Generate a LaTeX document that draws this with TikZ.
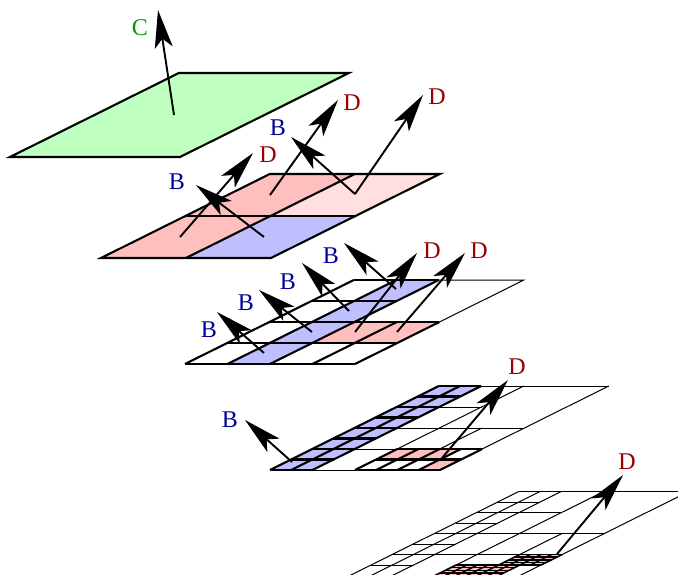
\documentclass[tikz,border=0pt]{standalone}
\usepackage{fontspec}
\setmainfont{Liberation Serif}
\usepackage{tikz}
\usetikzlibrary{arrows.meta}
\definecolor{colgreen}{RGB}{191,255,191}
\definecolor{colred}{RGB}{255,191,191}
\definecolor{colpale}{RGB}{255,223,223}
\definecolor{colblue}{RGB}{191,191,255}
\definecolor{txtb}{RGB}{0,0,153}
\definecolor{txtd}{RGB}{153,0,0}
\definecolor{txtc}{RGB}{0,153,0}
\newcommand{\patch}[4]{(#1,#2) -- (#3,#2) -- (#3,#4) -- (#1,#4) -- cycle}
\tikzset{
  sheet/.style={x={(21.25pt,0pt)}, y={(21.1pt,10.5pt)}},
  bold/.style={line width=2.1pt, line join=miter},
  fine/.style={line width=1pt},
  vec/.style={line width=1.9pt, -{Stealth[length=38pt,width=18pt,inset=9pt]}},
  lab/.style={font=\fontsize{24}{24}\selectfont, inner sep=0pt},
  labb/.style={lab, text=txtb},
  labd/.style={lab, text=txtd},
  labc/.style={lab, text=txtc}
}
\begin{document}
\begin{tikzpicture}[x=1pt, y=-1pt]
  \clip (0,0) rectangle (678,574);
  % coarsest plate
  \begin{scope}[shift={(10,157)}, sheet]
    \draw[bold, fill=colgreen] \patch{0}{0}{8}{8};
  \end{scope}
  \coordinate (cbase) at (174,115);
  \coordinate (ctip) at (158,10);
  \node[labc] (clab) at (140,28) {C};
  \draw[vec] (cbase) -- (ctip);
  % second plate
  \begin{scope}[shift={(101,258)}, sheet]
    \fill[colred] \patch{0}{0}{4}{4};
    \fill[colblue] \patch{4}{0}{8}{4};
    \fill[colred] \patch{0}{4}{4}{8};
    \fill[colpale] \patch{4}{4}{8}{8};
    \draw[bold] \patch{0}{0}{8}{8};
    \draw[bold] (4,0) -- (4,8);
    \draw[bold] (0,4) -- (8,4);
  \end{scope}
  \coordinate (da) at (180,237);
  \coordinate (dat) at (253,153);
  \coordinate (db) at (270,195);
  \coordinate (dbt) at (338,100);
  \coordinate (dc) at (355,194);
  \coordinate (dct) at (423,95);
  \coordinate (ba) at (264,237);
  \coordinate (bat) at (196,185);
  \coordinate (bbt) at (291,137);
  \node[labd] (dalab) at (268,155) {D};
  \node[labd] (dblab) at (352,103) {D};
  \node[labd] (dclab) at (437,97) {D};
  \node[labb] (balab) at (177,182) {B};
  \node[labb] (bblab) at (278,128) {B};
  \draw[vec] (da) -- (dat);
  \draw[vec] (db) -- (dbt);
  \draw[vec] (dc) -- (dct);
  \draw[vec] (ba) -- (bat);
  \draw[vec] (dc) -- (bbt);
  % third plate
  \begin{scope}[shift={(185,364)}, sheet]
    \fill[colblue] \patch{2}{0}{4}{8};
    \fill[colred] \patch{4}{2}{8}{4};
    \draw[fine] (4,8) -- (8,8) -- (8,4);
    \foreach \i in {0,2,4} \draw[bold] (\i,0) -- (\i,8);
    \foreach \i in {6,8} \draw[bold] (\i,0) -- (\i,4);
    \foreach \j in {0,2,4} \draw[bold] (0,\j) -- (8,\j);
    \foreach \j in {6,8} \draw[bold] (0,\j) -- (4,\j);
  \end{scope}
  \coordinate (bc) at (264,353);
  \coordinate (bct) at (217,312);
  \coordinate (bd) at (312,332);
  \coordinate (bdt) at (259,290);
  \coordinate (be) at (349,311);
  \coordinate (bet) at (302,263);
  \coordinate (bf) at (396,289);
  \coordinate (bft) at (344,243);
  \coordinate (dd) at (355,332);
  \coordinate (ddt) at (417,253);
  \coordinate (de) at (397,332);
  \coordinate (det) at (465,253);
  \node[labb] (bclab) at (209,330) {B};
  \node[labb] (bdlab) at (246,303) {B};
  \node[labb] (belab) at (288,282) {B};
  \node[labb] (bflab) at (331,256) {B};
  \node[labd] (ddlab) at (432,251) {D};
  \node[labd] (delab) at (479,251) {D};
  \draw[vec] (bc) -- (bct);
  \draw[vec] (bd) -- (bdt);
  \draw[vec] (be) -- (bet);
  \draw[vec] (bf) -- (bft);
  \draw[vec] (dd) -- (ddt);
  \draw[vec] (de) -- (det);
  % fourth plate
  \begin{scope}[shift={(270,470)}, sheet]
    \fill[colblue] \patch{0}{0}{2}{8};
    \fill[colred] \patch{4}{1}{7}{2};
    \fill[colred] \patch{7}{0}{8}{1};
    \draw[fine] (2,0) -- (4,0);
    \draw[fine] (2,2) -- (4,2);
    \draw[fine] (2,4) -- (8,4);
    \draw[fine] (2,6) -- (4,6);
    \draw[fine] (2,8) -- (8,8);
    \draw[fine] (4,2) -- (4,8);
    \draw[fine] (6,2) -- (6,4);
    \draw[fine] (8,2) -- (8,8);
    \foreach \i in {0,1,2} \draw[bold] (\i,0) -- (\i,8);
    \foreach \j in {0,...,8} \draw[bold] (0,\j) -- (2,\j);
    \foreach \i in {4,...,8} \draw[bold] (\i,0) -- (\i,2);
    \foreach \j in {0,1,2} \draw[bold] (4,\j) -- (8,\j);
  \end{scope}
  \coordinate (bg) at (292,462);
  \coordinate (bgt) at (245,420);
  \coordinate (df) at (442,458);
  \coordinate (dft) at (508,380);
  \node[labb] (bglab) at (230,420) {B};
  \node[labd] (dflab) at (517,367) {D};
  \draw[vec] (bg) -- (bgt);
  \draw[vec] (df) -- (dft);
  % finest plate
  \begin{scope}[shift={(350,575.5)}, sheet]
    \foreach \i in {0,1,2} \draw[fine] (\i,0) -- (\i,8);
    \foreach \j in {0,...,8} \draw[fine] (0,\j) -- (2,\j);
    \foreach \j in {0,2,4,6,8} \draw[fine] (2,\j) -- (4,\j);
    \foreach \j in {2,4,8} \draw[fine] (4,\j) -- (8,\j);
    \draw[fine] (4,0) -- (4,8);
    \draw[fine] (6,2) -- (6,4);
    \draw[fine] (8,0) -- (8,8);
    \fill[colred] \patch{6}{1}{8}{2};
    \fill[colred] \patch{4}{0}{7}{1};
    \foreach \i in {6,6.5,...,8} \draw[line width=1.5pt] (\i,1) -- (\i,2);
    \foreach \j in {1,1.25,...,2} \draw[line width=1.5pt] (6,\j) -- (8,\j);
    \foreach \i in {4,4.5,...,7} \draw[line width=1.5pt] (\i,0) -- (\i,1);
    \foreach \j in {0,0.25,...,1} \draw[line width=1.5pt] (4,\j) -- (7,\j);
  \end{scope}
  \coordinate (dg) at (557,554);
  \coordinate (dgt) at (623,475);
  \node[labd] (dglab) at (627,462) {D};
  \draw[vec] (dg) -- (dgt);
\end{tikzpicture}
\end{document}
